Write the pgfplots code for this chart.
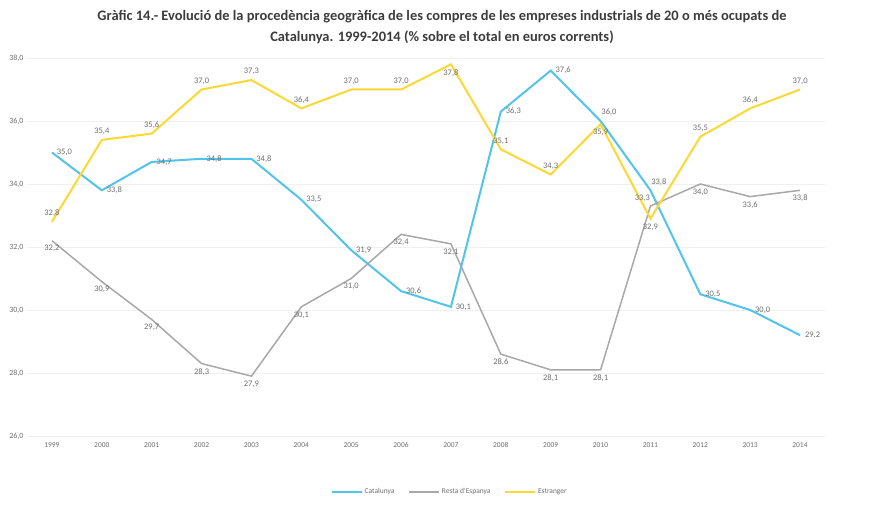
\documentclass[border=0pt]{standalone}
\usepackage{pgfplots}
\pgfplotsset{compat=1.18}
\usepackage{pgfplotstable}
\usepackage{fontspec}
\setmainfont{Carlito}
\definecolor{cblue}{RGB}{82,196,234}
\definecolor{cgray}{RGB}{168,168,168}
\definecolor{cyel}{RGB}{252,216,52}
\definecolor{ctxt}{RGB}{110,110,110}
\definecolor{ctitle}{RGB}{60,60,60}
\pgfplotstableread{
year cat ca resto ra est ea
1999 35.0 180 32.2 90 32.8 270
2000 33.8 180 30.9 90 35.4 270
2001 34.7 180 29.7 90 35.6 270
2002 34.8 180 28.3 90 37.0 270
2003 34.8 180 27.9 90 37.3 270
2004 33.5 180 30.1 90 36.4 270
2005 31.9 180 31.0 90 37.0 270
2006 30.6 180 32.4 90 37.0 270
2007 30.1 180 32.1 90 37.8 90
2008 36.3 180 28.6 90 35.1 270
2009 37.6 180 28.1 90 34.3 270
2010 36.0 225 28.1 90 35.9 90
2011 33.8 225 33.3 315 32.9 90
2012 30.5 180 34.0 90 35.5 270
2013 30.0 180 33.6 90 36.4 270
2014 29.2 180 33.8 90 37.0 270
}\data
\begin{document}
\begin{tikzpicture}
\useasboundingbox (0,0) rectangle (871bp,507bp);
\node[font=\bfseries\fontsize{14.5}{21}\selectfont, text=ctitle, align=center] at (442bp,480bp)
 {Gràfic 14.- Evolució de la procedència geogràfica de les compres de les empreses industrials de 20 o més ocupats de\\
  Catalunya. 1999-2014 (\% sobre el total en euros corrents)};
\begin{axis}[
  at={(27bp,71bp)}, anchor=south west,
  scale only axis, width=798bp, height=378bp,
  xmin=1998.5, xmax=2014.5, ymin=26, ymax=38,
  xtick={1999,...,2014}, ytick={26,28,...,38},
  axis line style={draw=none},
  major tick length=0pt,
  ymajorgrids, grid style={draw=black!6, line width=0.8bp},
  xticklabel style={font=\fontsize{7.5}{8}\selectfont, text=ctxt, yshift=-3bp,
     /pgf/number format/set thousands separator={}, /pgf/number format/assume math mode=true},
  yticklabel style={font=\fontsize{8}{9}\selectfont, text=ctxt, anchor=east,
     /pgf/number format/fixed, /pgf/number format/fixed zerofill, /pgf/number format/precision=1,
     /pgf/number format/use comma, /pgf/number format/assume math mode=true},
  point meta=explicit symbolic,
  visualization depends on={rawy \as \myy},
  nodes near coords={\pgfmathprintnumber[fixed, fixed zerofill, precision=1, use comma, assume math mode=true]{\myy}},
  every node near coord/.append style={font=\fontsize{8.5}{9}\selectfont, text=ctxt, inner sep=4bp,
     anchor=\pgfplotspointmeta},
  legend style={at={(0.53,-0.148)}, anchor=center, draw=none, fill=none,
     font=\fontsize{7.5}{8}\selectfont, text=ctxt, legend columns=3,
     /tikz/every even column/.append style={column sep=12bp}},
  legend image code/.code={\draw[#1, line width=1.5bp] (0bp,0bp) -- (30bp,0bp);},
]
\addplot[cblue, line width=2bp, no markers] table[x=year, y=cat, meta=ca] {\data};
\addlegendentry{Catalunya}
\addplot[cgray, line width=1.5bp, no markers] table[x=year, y=resto, meta=ra] {\data};
\addlegendentry{Resta d'Espanya}
\addplot[cyel, line width=2bp, no markers] table[x=year, y=est, meta=ea] {\data};
\addlegendentry{Estranger}
\end{axis}
\end{tikzpicture}
\end{document}
